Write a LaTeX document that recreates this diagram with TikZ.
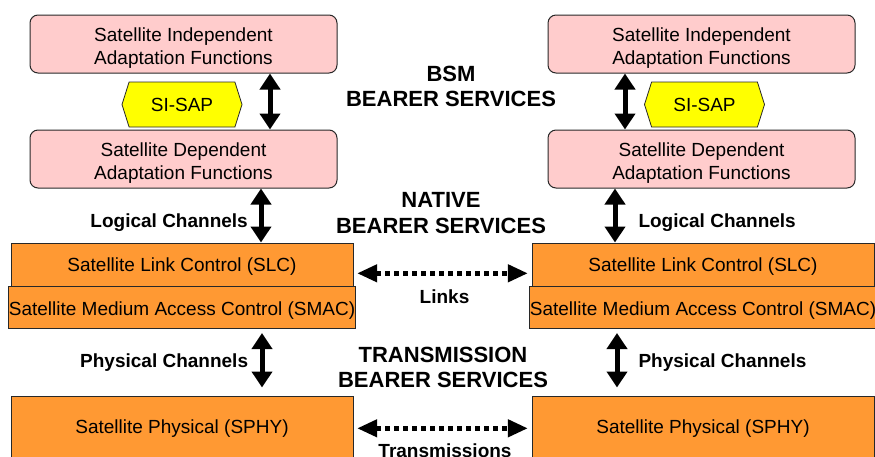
\documentclass[tikz,border=0pt]{standalone}
\usepackage{fontspec}
\setmainfont{Liberation Sans}
\usetikzlibrary{arrows.meta,shapes.symbols}
\definecolor{pinkfill}{RGB}{255,204,204}
\definecolor{orangefill}{RGB}{255,153,51}
\definecolor{sapyellow}{RGB}{255,255,0}
\definecolor{edge}{RGB}{40,40,40}
% invisible strut that lowers two-line box text a little
\newcommand{\lowstrut}{\rule{0pt}{21pt}}
\tikzset{
  boxtext/.style={font=\fontsize{19}{23}\selectfont, align=center, text=black},
  adapt/.style={boxtext, draw=edge, line width=1pt, fill=pinkfill, rounded corners=8pt,
    minimum width=307pt, minimum height=58pt, inner sep=0pt},
  layer/.style={boxtext, draw=edge, line width=1pt, fill=orangefill,
    minimum width=342pt, inner sep=0pt, text depth=0pt},
  sap/.style={boxtext, draw=edge, line width=0.8pt, fill=sapyellow, signal,
    signal to=east and west, signal pointer angle=145,
    minimum width=120pt, minimum height=45pt, inner sep=0pt},
  chanlabel/.style={font=\bfseries\fontsize{19}{23}\selectfont, inner sep=0pt},
  heading/.style={font=\bfseries\fontsize{22}{25.5}\selectfont, align=center, inner sep=0pt},
  dblarrow/.style={line width=5pt, {Triangle[width=20pt,length=16pt]}-{Triangle[width=20pt,length=16pt]}},
  peerarrow/.style={line width=4.5pt, dash pattern=on 4.5pt off 4.5pt,
    {Triangle[width=17pt,length=20pt]}-{Triangle[width=17pt,length=20pt]}},
}
\begin{document}
\begin{tikzpicture}[x=1pt,y=-1pt]
\useasboundingbox (0,0) rectangle (875,456);
\clip (0,0) rectangle (875,456);

% left stack
\node[adapt] (siaL) at (183.5,44) {\lowstrut Satellite Independent\\Adaptation Functions};
\node[sap] (sapL) at (182,104.5) {SI-SAP};
\node[adapt] (sdaL) at (183.5,159) {\lowstrut Satellite Dependent\\Adaptation Functions};
\node[layer, minimum height=43pt, text height=14.6pt] (slcL) at (182,264.5) {Satellite Link Control (SLC)};
\node[layer, minimum height=42pt, text height=17.6pt] (smacL) at (182,307) {Satellite Medium Access Control (SMAC)};
\node[layer, minimum height=62pt, text height=13.6pt] (sphyL) at (182,427) {Satellite Physical (SPHY)};

% right stack
\node[adapt] (siaR) at (701.5,44) {\lowstrut Satellite Independent\\Adaptation Functions};
\node[sap] (sapR) at (704.5,104.5) {SI-SAP};
\node[adapt] (sdaR) at (701.5,159) {\lowstrut Satellite Dependent\\Adaptation Functions};
\node[layer, minimum height=43pt, text height=14.6pt] (slcR) at (703,264.5) {Satellite Link Control (SLC)};
\node[layer, minimum height=42pt, text height=17.6pt] (smacR) at (703,307) {Satellite Medium Access Control (SMAC)};
\node[layer, minimum height=62pt, text height=13.6pt] (sphyR) at (703,427) {Satellite Physical (SPHY)};

% vertical arrow positions
\coordinate (xsapL) at (270,0);
\coordinate (xlogL) at (261,0);
\coordinate (xphyL) at (262,0);
\coordinate (xsapR) at (625,0);
\coordinate (xlogR) at (615,0);
\coordinate (xphyR) at (617,0);

% note: y grows downwards, so a negative yshift moves a point down
\draw[dblarrow] (siaL.south -| xsapL) -- (sdaL.north -| xsapL);
\draw[dblarrow] (sdaL.south -| xlogL) -- (slcL.north -| xlogL);
\draw[dblarrow] ([yshift=-4.5pt]smacL.south -| xphyL) -- ([yshift=8pt]sphyL.north -| xphyL);
\draw[dblarrow] (siaR.south -| xsapR) -- (sdaR.north -| xsapR);
\draw[dblarrow] (sdaR.south -| xlogR) -- (slcR.north -| xlogR);
\draw[dblarrow] ([yshift=-4.5pt]smacR.south -| xphyR) -- ([yshift=8pt]sphyR.north -| xphyR);

% peer arrows
\draw[peerarrow] ([xshift=3.7pt,yshift=-8.8pt]slcL.east) -- ([xshift=-3.7pt,yshift=-8.8pt]slcR.west);
\draw[peerarrow] ([xshift=3.7pt,yshift=-1.3pt]sphyL.east) -- ([xshift=-3.7pt,yshift=-1.3pt]sphyR.west);

% labels
\node[chanlabel, anchor=base east] (logL) at (248,227.7) {Logical Channels};
\node[chanlabel, anchor=base west] (logR) at (638.3,227.7) {Logical Channels};
\node[chanlabel, anchor=base east] (phyL) at (248.3,367.3) {Physical Channels};
\node[chanlabel, anchor=base west] (phyR) at (638.3,367.3) {Physical Channels};
\node[chanlabel, anchor=base] (links) at (444.5,303) {Links};
\node[chanlabel, anchor=base] (trans) at (445,457) {Transmissions};

\node[heading] (bsm) at (451,86.4) {BSM\\BEARER SERVICES};
\node[heading] (native) at (441,213) {NATIVE\\BEARER SERVICES};
\node[heading] (transm) at (443,367.3) {TRANSMISSION\\BEARER SERVICES};
\end{tikzpicture}
\end{document}
